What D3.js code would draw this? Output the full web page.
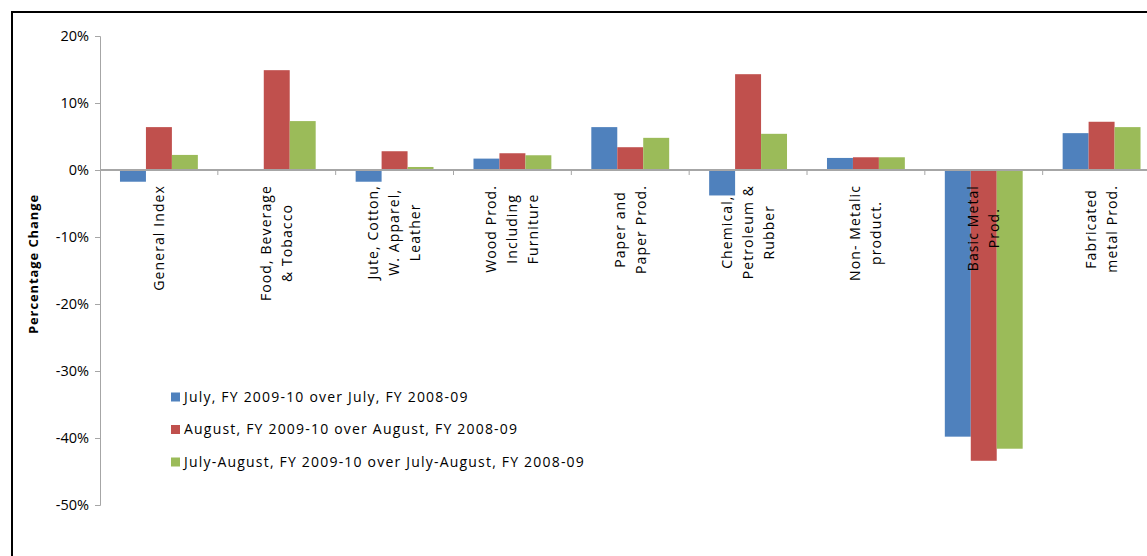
<!DOCTYPE html>
<html><head><meta charset="utf-8">
<script src="https://cdn.jsdelivr.net/npm/d3@7"></script>
<style>
html,body{margin:0;padding:0;background:#fff;}
svg{display:block;font-family:"Open Sans",sans-serif;}
</style></head>
<body>
<svg id="c" width="1147" height="556"></svg>
<script>
const categories = [
  ["General Index"],
  ["Food, Beverage","& Tobacco"],
  ["Jute, Cotton,","W. Apparel,","Leather"],
  ["Wood Prod.","Including","Furniture"],
  ["Paper and","Paper Prod."],
  ["Chemical,","Petroleum &","Rubber"],
  ["Non- Metalic","product."],
  ["Basic Metal","Prod."],
  ["Fabricated","metal Prod."]
];
const seriesNames = [
  "July, FY 2009-10 over July, FY 2008-09",
  "August, FY 2009-10 over August, FY 2008-09",
  "July-August, FY 2009-10 over July-August, FY 2008-09"
];
const julyValues   = [-1.75, 0,    -1.75, 1.7, 6.4, -3.8, 1.8, -39.8, 5.5];
const augustValues = [ 6.4, 14.9,   2.8, 2.5, 3.4, 14.3, 1.9, -43.4, 7.2];
const julAugValues = [ 2.25, 7.3,   0.45, 2.2, 4.8,  5.4, 1.9, -41.6, 6.4];
const seriesColors = ["#4F81BD","#C0504D","#9BBB59"];
const yTicks = [20,10,0,-10,-20,-30,-40,-50];
const yTitle = "Percentage Change";

const svg = d3.select("#c");
// outer border
svg.append("rect").attr("x",12).attr("y",12).attr("width",1300).attr("height",800)
  .attr("fill","none").attr("stroke","#000").attr("stroke-width",2);

const x0 = d3.scaleBand().domain(d3.range(categories.length)).range([100, 1160.5]).padding(0);
const x1 = d3.scaleBand().domain(d3.range(3)).range([0, x0.bandwidth()]).paddingInner(0).paddingOuter(0.77);
const y = d3.scaleLinear().domain([-50,20]).range([505,36]);

// y axis
const yAxis = d3.axisLeft(y).tickValues(yTicks).tickFormat(d=>d+"%").tickSize(5).tickPadding(6);
const gy = svg.append("g").attr("transform","translate(100,0)").call(yAxis);
gy.select(".domain").attr("stroke","#a6a6a6");
gy.selectAll(".tick line").attr("stroke","#a6a6a6");
gy.selectAll(".tick text").attr("font-size",14.5).attr("fill","#000").attr("font-family","Open Sans");

const values = [julyValues, augustValues, julAugValues];
const gBars = svg.append("g");
values.forEach((vals,s)=>{
  gBars.selectAll(null).data(vals).enter().append("rect")
    .attr("x",(d,i)=>x0(i)+x1(s))
    .attr("width",x1.bandwidth())
    .attr("y",d=>y(Math.max(0,d)))
    .attr("height",d=>Math.abs(y(d)-y(0)))
    .attr("fill",seriesColors[s]);
});

// x axis at zero
const gx = svg.append("g").attr("transform",`translate(0,${y(0)})`);
gx.append("line").attr("x1",100).attr("x2",1160).attr("y1",0).attr("y2",0).attr("stroke","#a6a6a6").attr("stroke-width",2);
gx.selectAll(".tk").data(d3.range(1,categories.length)).enter().append("line")
  .attr("x1",i=>x0(i)).attr("x2",i=>x0(i)).attr("y1",0).attr("y2",5).attr("stroke","#a6a6a6");

// category labels
const fs = 14;
const lineH = 21;
const labTop = 185;
categories.forEach((lines,i)=>{
  const cx = x0(i)+x0.bandwidth()/2;
  const g = svg.append("g").attr("transform",`translate(${cx},${labTop}) rotate(-90)`);
  const t = g.append("text").attr("font-size",fs).attr("text-anchor","middle").attr("fill","#000").attr("letter-spacing",1.1);
  const n = lines.length;
  lines.forEach((ln,k)=>{
    t.append("tspan").attr("x",0).attr("y",(k-(n-1)/2)*lineH + 0.35*fs).text(ln);
  });
  let maxLen = 0;
  t.selectAll("tspan").each(function(){ maxLen = Math.max(maxLen, this.getComputedTextLength()); });
  t.selectAll("tspan").attr("x",-maxLen/2);
});

// y title
svg.append("text").attr("transform","translate(38,264) rotate(-90)")
  .attr("text-anchor","middle").attr("font-size",13).attr("font-weight","bold")
  .attr("letter-spacing",0.9).text(yTitle);

// legend
const lg = svg.append("g");
seriesNames.forEach((nm,s)=>{
  const cy = 397 + s*32.5;
  lg.append("rect").attr("x",171).attr("y",cy-4.5).attr("width",9).attr("height",9).attr("fill",seriesColors[s]);
  lg.append("text").attr("x",184).attr("y",cy).attr("dy","0.35em").attr("font-size",14).attr("letter-spacing",1.2).text(nm);
});
</script>
</body></html>
